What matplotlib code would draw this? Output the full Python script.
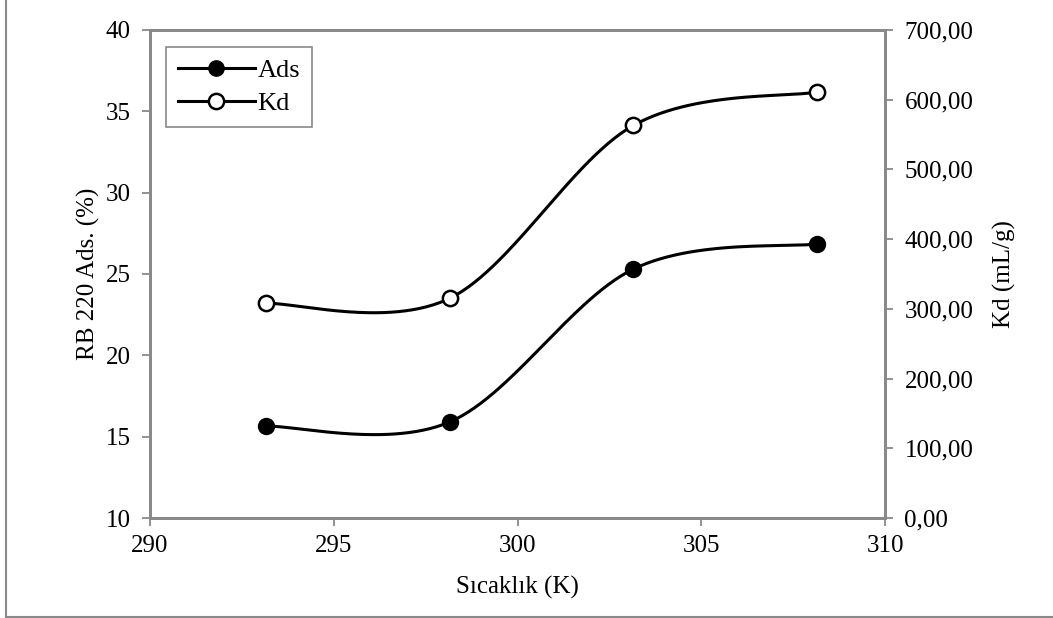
import matplotlib

matplotlib.use("Agg")
import matplotlib.pyplot as plt
import numpy as np
from matplotlib.lines import Line2D
from matplotlib.ticker import FuncFormatter, MultipleLocator

# data
temperature_k = [293.15, 298.15, 303.15, 308.15]
ads_percent = [15.65, 15.9, 25.3, 26.85]
kd_ml_g = [308.0, 315.0, 563.0, 611.0]

AXIS_GRAY = "#898989"
FONT = ["Liberation Serif", "DejaVu Serif"]
FS = 18

plt.rcParams.update(
    {
        "font.family": FONT,
        "font.size": FS,
        "mathtext.fontset": "stix",
    }
)


def smooth_curve(xs, ys, steps=60):
    # Excel-style smoothed line: Catmull-Rom segments as cubic Bezier
    pts = np.column_stack([xs, ys]).astype(float)
    padded = np.vstack([pts[0], pts, pts[-1]])
    out = []
    t = np.linspace(0, 1, steps)[:, None]
    for i in range(len(pts) - 1):
        p0, p1 = padded[i + 1], padded[i + 2]
        c1 = p0 + (padded[i + 2] - padded[i]) / 6
        c2 = p1 - (padded[i + 3] - padded[i + 1]) / 6
        seg = (1 - t) ** 3 * p0 + 3 * (1 - t) ** 2 * t * c1 + 3 * (1 - t) * t ** 2 * c2 + t ** 3 * p1
        out.append(seg if i == 0 else seg[1:])
    curve = np.vstack(out)
    return curve[:, 0], curve[:, 1]


fig = plt.figure(figsize=(10.53, 6.18), dpi=100)
ax = fig.add_axes([0.1425, 0.1618, 0.6980, 0.7897])
ax2 = ax.twinx()

for a in (ax, ax2):
    for spine in a.spines.values():
        spine.set_color(AXIS_GRAY)
        spine.set_linewidth(2)
    a.tick_params(colors=AXIS_GRAY, labelcolor="black", width=1.3, length=6, labelsize=FS, direction="out")

sx, sy = smooth_curve(temperature_k, ads_percent)
ax.plot(sx, sy, color="black", lw=2.2, zorder=3)
ax.plot(temperature_k, ads_percent, ls="none", marker="o", ms=11, mfc="black", mec="black", mew=1.5, zorder=4)

kx, ky = smooth_curve(temperature_k, kd_ml_g)
ax2.plot(kx, ky, color="black", lw=2.2, zorder=3)
ax2.plot(temperature_k, kd_ml_g, ls="none", marker="o", ms=11, mfc="white", mec="black", mew=1.8, zorder=4)

ax.set_xlim(290, 310)
ax.set_ylim(10, 40)
ax2.set_ylim(0, 700)
ax.xaxis.set_major_locator(MultipleLocator(5))
ax.yaxis.set_major_locator(MultipleLocator(5))
ax2.yaxis.set_major_locator(MultipleLocator(100))
ax2.yaxis.set_major_formatter(FuncFormatter(lambda v, _: f"{v:.2f}".replace(".", ",")))
ax.tick_params(axis="x", pad=6)
ax.tick_params(axis="y", pad=8)
ax2.tick_params(axis="y", pad=8)

ax.set_xlabel("Sıcaklık (K)", fontsize=FS)
ax.set_ylabel("RB 220 Ads. (%)", fontsize=FS)
ax2.set_ylabel("Kd (mL/g)", fontsize=FS)
ax.xaxis.set_label_coords(0.5, -0.118)
ax.yaxis.set_label_coords(-0.068, 0.5)
ax2.yaxis.set_label_coords(1.147, 0.5)

handles = [
    Line2D([], [], color="black", lw=2.2, marker="o", ms=11, mfc="black", mec="black"),
    Line2D([], [], color="black", lw=2.2, marker="o", ms=11, mfc="white", mec="black", mew=1.8),
]
leg = ax2.legend(
    handles,
    ["Ads", "Kd"],
    loc="upper left",
    bbox_to_anchor=(0.022, 0.965),
    fancybox=False,
    framealpha=1,
    edgecolor=AXIS_GRAY,
    fontsize=19,
    handlelength=2.9,
    handletextpad=0.1,
    borderpad=0.45,
    labelspacing=0.35,
    borderaxespad=0,
)
leg.get_frame().set_linewidth(1.2)

# chart area border (left and bottom only visible)
fig.add_artist(Line2D([6 / 1053, 6 / 1053], [1 / 618, 1.0], color=AXIS_GRAY, lw=1.5, transform=fig.transFigure))
fig.add_artist(Line2D([6 / 1053, 1.0], [1 / 618, 1 / 618], color=AXIS_GRAY, lw=1.5, transform=fig.transFigure))

fig.savefig("out.png", dpi=100)
